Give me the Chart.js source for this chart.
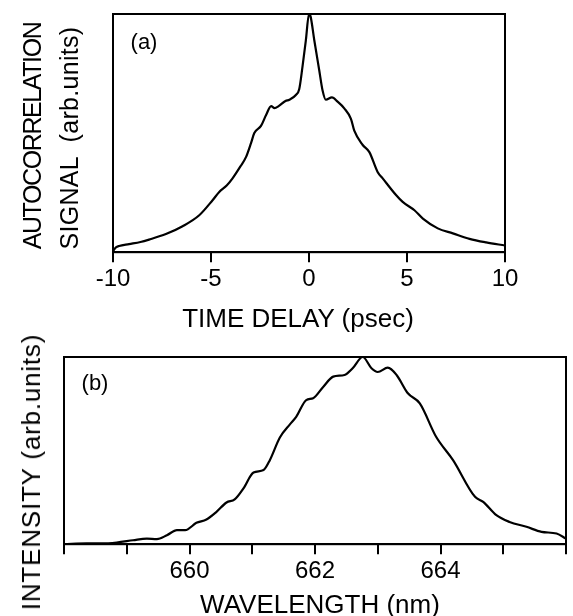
<!DOCTYPE html>
<html>
<head>
<meta charset="utf-8">
<script src="https://cdn.jsdelivr.net/npm/chart.js@4.4.1/dist/chart.umd.min.js"></script>
<style>
  body { margin: 0; background: #fff; }
  #hoja { position: relative; width: 573px; height: 616px; overflow: hidden; font-family: "Liberation Sans", Arial, sans-serif; color: #000; }
  canvas { position: absolute; left: 0; }
  .txt { position: absolute; white-space: pre; line-height: 1; transform: translate(-50%, -50%); }
  .vert { transform: translate(-50%, -50%) rotate(-90deg); }
</style>
</head>
<body>
<div id="hoja">
  <canvas id="graficoA" width="573" height="340" style="top:0"></canvas>
  <canvas id="graficoB" width="573" height="286" style="top:330px"></canvas>

  <div class="txt vert" style="left:32px; top:136px; font-size:25px; letter-spacing:-1.4px">AUTOCORRELATION</div>
  <div class="txt vert" style="left:69px; top:138px; font-size:25px; letter-spacing:0.3px">SIGNAL  (arb.units)</div>
  <div class="txt" style="left:298px; top:318px; font-size:26px">TIME DELAY (psec)</div>
  <div class="txt" style="left:144px; top:42px; font-size:22px">(a)</div>

  <div class="txt vert" style="left:31px; top:472px; font-size:26px; letter-spacing:0.8px">INTENSITY (arb.units)</div>
  <div class="txt" style="left:320px; top:604px; font-size:26px">WAVELENGTH (nm)</div>
  <div class="txt" style="left:95px; top:383px; font-size:22px">(b)</div>
</div>

<script>
// (a) autocorrelation trace
const timeDelay = [-10, -9.85, -9.69, -9.18, -8.6, -8.16, -7.3, -6.45, -5.6, -4.92, -4.58, -4.2, -3.9, -3.5, -3.21,
  -2.95, -2.79, -2.45, -2.19, -1.93, -1.76, -1.55, -1.2, -1.0, -0.67, -0.5, -0.33, -0.16, 0.0, 0.08, 0.27, 0.52,
  0.69, 0.86, 1.17, 1.46, 1.8, 2.14, 2.31, 2.74, 3.08, 3.5, 3.76, 4.44, 4.78, 5.38, 5.81, 6.57, 7.34, 8.19, 9.04, 10];
const autocorr = [0.005, 0.02, 0.026, 0.034, 0.043, 0.053, 0.076, 0.109, 0.155, 0.218, 0.253, 0.28, 0.31, 0.36, 0.4,
  0.46, 0.5, 0.53, 0.576, 0.613, 0.605, 0.613, 0.635, 0.64, 0.66, 0.684, 0.78, 0.89, 1.0, 0.99, 0.89, 0.765,
  0.68, 0.64, 0.65, 0.632, 0.604, 0.56, 0.51, 0.45, 0.42, 0.337, 0.31, 0.24, 0.211, 0.176, 0.141, 0.1, 0.079, 0.056, 0.041, 0.028];
const timeTicks = [-10, -5, 0, 5, 10];

// (b) spectrum
const wavelength = [658.0, 658.36, 658.6, 658.84, 659.1, 659.32, 659.48, 659.64, 659.8, 659.93, 660.11, 660.27, 660.43,
  660.59, 660.72, 660.86, 661.02, 661.18, 661.28, 661.44, 661.6, 661.7, 661.86, 661.97, 662.13, 662.29, 662.47, 662.6,
  662.76, 662.9, 663.0, 663.16, 663.3, 663.48, 663.67, 663.93, 664.2, 664.55, 664.68, 664.89, 665.1, 665.37, 665.61, 665.85, 666.0];
const intensity = [0.0, 0.004, 0.004, 0.009, 0.021, 0.03, 0.027, 0.048, 0.075, 0.075, 0.114, 0.132, 0.173,
  0.223, 0.239, 0.298, 0.383, 0.396, 0.449, 0.57, 0.64, 0.68, 0.77, 0.78, 0.84, 0.895, 0.904, 0.94,
  1.0, 0.94, 0.92, 0.943, 0.904, 0.806, 0.752, 0.574, 0.449, 0.253, 0.226, 0.155, 0.119, 0.093, 0.066, 0.057, 0.03];
const wavelengthTicks = [660, 662, 664];

// marco negro alrededor del area del grafico
const marco = {
  id: 'marco',
  afterDatasetsDraw(chart) {
    const { ctx, chartArea: a } = chart;
    ctx.save();
    ctx.strokeStyle = '#000';
    ctx.lineWidth = 2;
    ctx.strokeRect(a.left, a.top, a.right - a.left, a.bottom - a.top);
    ctx.restore();
  }
};

function grafico(id, xs, ys, xMin, xMax, step, labels, pad) {
  const puntos = xs.map((x, i) => ({ x: x, y: ys[i] }));
  return new Chart(document.getElementById(id), {
    type: 'line',
    data: {
      datasets: [{
        data: puntos,
        borderColor: '#000',
        borderWidth: 2.2,
        pointRadius: 0,
        fill: false,
        cubicInterpolationMode: 'monotone'
      }]
    },
    options: {
      responsive: false,
      animation: false,
      events: [],
      layout: { padding: pad },
      plugins: { legend: { display: false }, tooltip: { enabled: false } },
      scales: {
        x: {
          type: 'linear',
          min: xMin,
          max: xMax,
          grid: { drawOnChartArea: false, color: '#000', lineWidth: 2, tickLength: 10 },
          border: { color: '#000', width: 2 },
          ticks: {
            stepSize: step,
            autoSkip: false,
            maxRotation: 0,
            padding: 3,
            color: '#000',
            font: { family: 'Liberation Sans', size: 24 },
            callback: (v) => labels.includes(v) ? String(v) : ''
          }
        },
        y: { display: false, min: 0, max: 1 }
      }
    },
    plugins: [marco]
  });
}

grafico('graficoA', timeDelay, autocorr, -10, 10, 5, timeTicks, { left: 113, right: 68, top: 14, bottom: 43 });
grafico('graficoB', wavelength, intensity, 658, 666, 1, wavelengthTicks, { left: 64, right: 7, top: 27, bottom: 27 });
</script>
</body>
</html>
